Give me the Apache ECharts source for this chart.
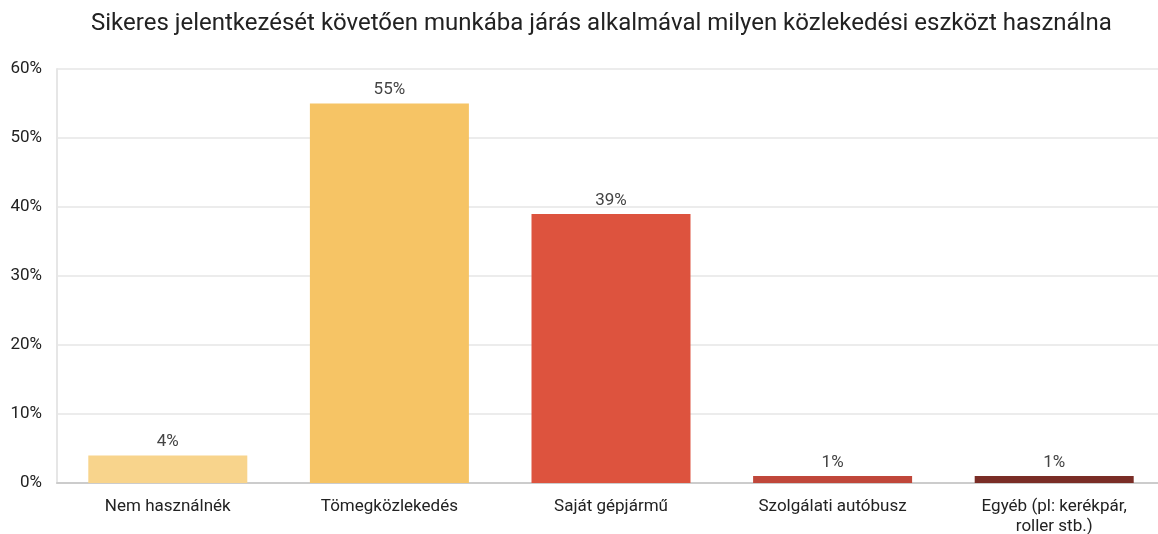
<!DOCTYPE html>
<html>
<head>
<meta charset="utf-8">
<script src="https://cdn.jsdelivr.net/npm/echarts@6/dist/echarts.min.js"></script>
<style>
html,body{margin:0;padding:0;background:#fff;}
#chart{width:1158px;height:534px;}
</style>
</head>
<body>
<div id="chart"></div>
<script>
var title = 'Sikeres jelentkezését követően munkába járás alkalmával milyen közlekedési eszközt használna';
var categories = ['Nem használnék', 'Tömegközlekedés', 'Saját gépjármű', 'Szolgálati autóbusz', 'Egyéb (pl: kerékpár,\nroller stb.)'];
var values = [4, 55, 39, 1, 1];
var colors = ['#f8d48c', '#f6c465', '#dd533e', '#c0473a', '#7a2d26'];
var yTicks = [0, 10, 20, 30, 40, 50, 60];

var chart = echarts.init(document.getElementById('chart'), null, {renderer: 'canvas'});
var font = 'Roboto, "Noto Sans", sans-serif';
chart.setOption({
  animation: false,
  backgroundColor: '#fff',
  title: {
    text: title,
    left: 86,
    top: 7,
    textStyle: {fontFamily: font, fontSize: 24, fontWeight: 'normal', color: '#222'}
  },
  grid: {left: 57, width: 1108, top: 69, bottom: 51, containLabel: false, outerBoundsMode: 'none'},
  xAxis: {
    type: 'category',
    data: categories,
    axisLine: {show: true, lineStyle: {color: '#cccccc', width: 2}},
    axisTick: {show: false},
    axisLabel: {fontFamily: font, fontSize: 17, color: '#222', margin: 14, lineHeight: 20, interval: 0}
  },
  yAxis: {
    type: 'value',
    min: yTicks[0],
    max: yTicks[yTicks.length - 1],
    interval: 10,
    axisLine: {show: true, lineStyle: {color: '#e6e6e6', width: 2}},
    axisTick: {show: false},
    splitLine: {lineStyle: {color: '#e6e6e6', width: 1.5}},
    axisLabel: {fontFamily: font, fontSize: 17, color: '#222', margin: 15, formatter: '{value}%'}
  },
  series: [{
    type: 'bar',
    barWidth: 159,
    data: values.map(function (v, i) { return {value: v, itemStyle: {color: colors[i]}}; }),
    label: {
      show: true,
      position: 'top',
      distance: 5,
      formatter: '{c}%',
      fontFamily: font,
      fontSize: 17,
      color: '#444'
    }
  }]
});
</script>
</body>
</html>
